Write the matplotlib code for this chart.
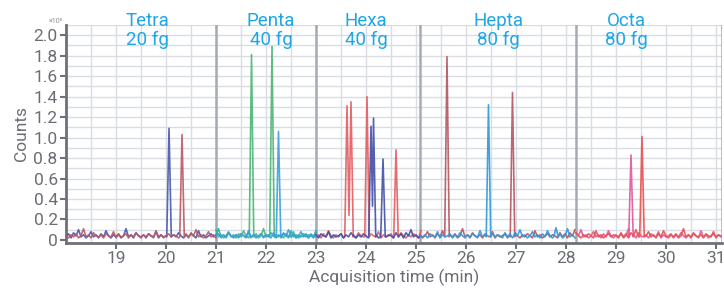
import matplotlib
matplotlib.use("Agg")
import matplotlib.pyplot as plt
import numpy as np

# ---------------- data ----------------
segment_edges = [18.0, 21.0, 23.0, 25.08, 28.2, 31.12]

group_labels = ["Tetra\n20 fg", "Penta\n40 fg", "Hexa\n40 fg", "Hepta\n80 fg", "Octa\n80 fg"]
group_label_x = [19.63, 22.1, 24.0, 26.65, 29.2]

x_ticks = [19, 20, 21, 22, 23, 24, 25, 26, 27, 28, 29, 30, 31]
y_ticks = [0, 0.2, 0.4, 0.6, 0.8, 1.0, 1.2, 1.4, 1.6, 1.8, 2.0]
y_tick_labels = ["0", "0.2", "0.4", "0.6", "0.8", "1.0", "1.2", "1.4", "1.6", "1.8", "2.0"]

# baseline noise pattern (x10^5 counts), read from the baseline
baseline_noise = [0.03, 0.06, 0.02, 0.07, 0.04, 0.10, 0.03, 0.05, 0.02, 0.04,
                  0.08, 0.03, 0.05, 0.02, 0.06, 0.03, 0.09, 0.04, 0.02, 0.05,
                  0.03, 0.06, 0.02, 0.04, 0.11, 0.03, 0.05, 0.02, 0.07, 0.04,
                  0.03, 0.05, 0.02, 0.06, 0.04, 0.03, 0.08, 0.02, 0.05, 0.03,
                  0.04, 0.06, 0.02, 0.05, 0.03, 0.07, 0.04, 0.02, 0.05, 0.03,
                  0.06, 0.04, 0.02, 0.09, 0.03, 0.05, 0.02, 0.04, 0.06, 0.03,
                  0.05, 0.04, 0.02, 0.07]

# traces: segment index and peak apexes (time, height) plus valleys
trace_segment = [0, 0, 1, 1, 1, 2, 2, 3, 3, 4, 4]
trace_noise_offset = [0, 17, 5, 23, 40, 11, 31, 7, 29, 3, 45]
trace_peaks = [
    [(20.06, 1.09)],                                   # tetra blue
    [(20.32, 1.03)],                                   # tetra red
    [(21.71, 1.81), (22.12, 1.89)],                    # penta green
    [],                                                # penta teal
    [(22.25, 1.06)],                                   # penta blue
    [(23.62, 1.31), (23.66, 0.24), (23.70, 1.35), (24.02, 1.40), (24.60, 0.88)],  # hexa red
    [(24.10, 1.11), (24.13, 0.33), (24.15, 1.19), (24.34, 0.79)],                # hexa blue
    [(25.62, 1.79), (26.93, 1.44)],                    # hepta brown
    [(26.45, 1.32), (27.80, 0.12)],                    # hepta blue
    [(29.30, 0.83)],                                   # octa pink
    [(29.52, 1.01)],                                   # octa red
]

# ---------------- styles ----------------
trace_colors = ["#4a56ad", "#b85a64", "#4cb574", "#22b3b3", "#3d9fe0",
                "#e35d60", "#4250a8", "#b3565f", "#2f98dc", "#e0589c", "#e9504f"]
STEP = 0.05
HALF = 0.045

plt.rcParams['font.family'] = ['Roboto', 'DejaVu Sans']
fig = plt.figure(figsize=(7.24, 2.9), dpi=100)
ax = fig.add_axes([0.0912, 0.162, 0.906, 0.752])

xmin, xmax = segment_edges[0], segment_edges[-1]
ymin, ymax = -0.03, 2.10
ax.set_xlim(xmin, xmax)
ax.set_ylim(ymin, ymax)

# grid
for gx in np.arange(18.0, 31.2, 0.5):
    ax.axvline(gx, color="#d9dce3", lw=1.0, zorder=0)
for gy in np.arange(0.1, 2.11, 0.1):
    ax.axhline(gy, color="#d9dce3", lw=1.0, zorder=0)

# segment boundary lines
for sx in segment_edges[1:]:
    ax.axvline(sx, color="#a6aab3", lw=1.8, zorder=1)
    ax.text(sx, 2.07, "\u2022", ha="center", va="center", fontsize=4, color="#9a9ea6", zorder=2)

# traces
for k, seg in enumerate(trace_segment):
    t0, t1 = segment_edges[seg], segment_edges[seg + 1]
    n = int(round((t1 - t0) / STEP)) + 1
    ts = [t0 + i * STEP for i in range(n)]
    off = trace_noise_offset[k]
    vs = [baseline_noise[(i + off) % len(baseline_noise)] for i in range(n)]
    peaks = trace_peaks[k]
    if peaks:
        clusters = []
        cur = [peaks[0]]
        for p in peaks[1:]:
            if p[0] - cur[-1][0] < 2 * HALF:
                cur.append(p)
            else:
                clusters.append(cur)
                cur = [p]
        clusters.append(cur)
        pts = list(zip(ts, vs))
        for cl in clusters:
            a = cl[0][0] - HALF
            b = cl[-1][0] + HALF
            pts = [q for q in pts if not (a < q[0] < b)]
            pts += [(a, 0.03)] + cl + [(b, 0.03)]
        pts.sort()
        ts = [q[0] for q in pts]
        vs = [q[1] for q in pts]
    ax.plot(ts, vs, color=trace_colors[k], lw=1.2, alpha=0.9, zorder=3, solid_joinstyle="round")

# labels above groups
for lx, lab in zip(group_label_x, group_labels):
    ax.text(lx, 2.046, lab, ha="center", va="center", fontsize=13.5, color="#1ea6e6",
            linespacing=1.0, zorder=5, clip_on=False)

# axes styling
for s in ["top", "right"]:
    ax.spines[s].set_visible(False)
for s in ["left", "bottom"]:
    ax.spines[s].set_color("#6e7178")
    ax.spines[s].set_linewidth(2.0)
ax.set_xticks(x_ticks)
ax.set_xticklabels([str(t) for t in x_ticks])
ax.set_yticks(y_ticks)
ax.set_yticklabels(y_tick_labels)
ax.tick_params(axis="both", colors="#6e7178", labelcolor="#6a6d73", labelsize=12.5,
               width=1.5, length=4, pad=2)
ax.set_xlabel("Acquisition time (min)", fontsize=12.5, color="#6a6d73", labelpad=2)
ax.set_ylabel("Counts", fontsize=12.5, color="#6a6d73", labelpad=3)
fig.text(0.067, 0.925, "\u00d710\u2075", fontsize=5, color="#8a8d93", ha="left", va="center")

fig.savefig("out.png", dpi=100)
